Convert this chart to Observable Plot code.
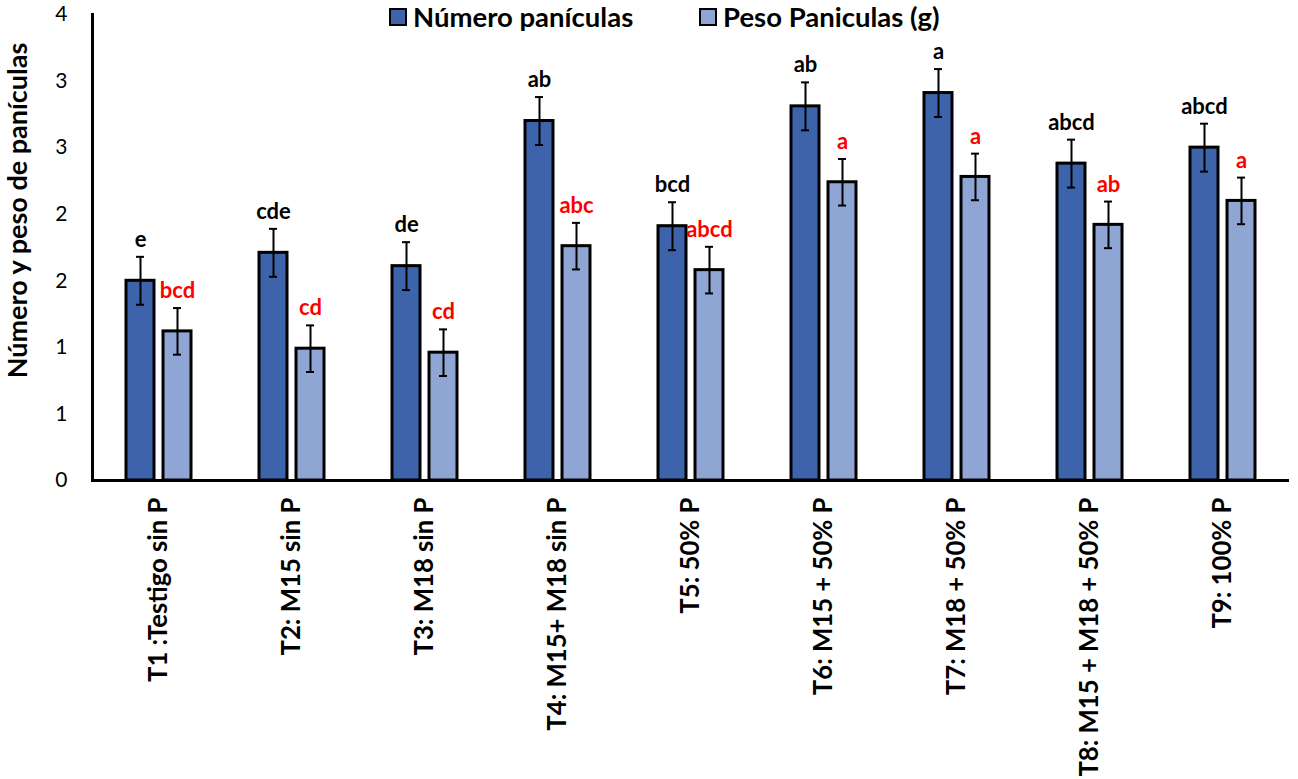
<!DOCTYPE html>
<html>
<head>
<meta charset="utf-8">
<script src="https://cdn.jsdelivr.net/npm/d3@7"></script>
<script src="https://cdn.jsdelivr.net/npm/@observablehq/plot@0.6"></script>
<style>
  html, body { margin: 0; padding: 0; background: #fff; }
  #wrap { position: relative; width: 1298px; height: 779px; font-family: Lato, "Open Sans", sans-serif; }
  .leg { position: absolute; top: 0px; display: flex; align-items: center; font-weight: bold; font-size: 27.5px; color: #000; white-space: nowrap; }
  .sw { width: 14px; height: 14px; border: 2px solid #000; margin-right: 6px; }
  svg g[aria-label="fx-axis tick label"] text { font-weight: bold; }
</style>
</head>
<body>
<div id="wrap">
  <div class="leg" style="left:389px"><div class="sw" id="sw0"></div><span id="lg0"></span></div>
  <div class="leg" style="left:699px"><div class="sw" id="sw1"></div><span id="lg1"></span></div>
</div>
<script>
const treatments = ["T1 :Testigo sin P", "T2: M15 sin P", "T3: M18 sin P", "T4: M15+ M18 sin P", "T5: 50% P", "T6: M15 + 50% P", "T7: M18 + 50% P", "T8: M15 + M18 + 50% P", "T9: 100% P"];
const series = ["Número panículas", "Peso Paniculas (g)"];
const numero = [1.50, 1.71, 1.61, 2.70, 1.91, 2.81, 2.91, 2.38, 2.50];
const peso = [1.12, 0.99, 0.96, 1.76, 1.58, 2.24, 2.28, 1.92, 2.10];
const errNumero = [0.18, 0.18, 0.18, 0.18, 0.18, 0.18, 0.18, 0.18, 0.18];
const errPeso = [0.175, 0.175, 0.175, 0.175, 0.175, 0.175, 0.175, 0.175, 0.175];
const letrasNumero = ["e", "cde", "de", "ab", "bcd", "ab", "a", "abcd", "abcd"];
const letrasPeso = ["bcd", "cd", "cd", "abc", "abcd", "a", "a", "ab", "a"];
const yTicks = [0, 0.5, 1, 1.5, 2, 2.5, 3, 3.5];
const yTickLabels = ["0", "1", "1", "2", "2", "3", "3", "4"];
const yLabel = "Número y peso de panículas";
const colors = ["#3D64AB", "#8FA5D4"];
const letterColors = ["#000000", "#FF0000"];

const data = treatments.flatMap((t, i) => [
  {trt: t, serie: series[0], value: numero[i], err: errNumero[i], letra: letrasNumero[i]},
  {trt: t, serie: series[1], value: peso[i], err: errPeso[i], letra: letrasPeso[i]}
]);

document.getElementById("lg0").textContent = series[0];
document.getElementById("lg1").textContent = series[1];
document.getElementById("sw0").style.background = colors[0];
document.getElementById("sw1").style.background = colors[1];

const chart = Plot.plot({
  width: 1298,
  height: 779,
  marginLeft: 91,
  marginRight: 8,
  marginTop: 14,
  marginBottom: 299,
  style: {fontFamily: "Lato, 'Open Sans', sans-serif", fontSize: "20px", color: "#000", background: "transparent", overflow: "visible"},
  fx: {domain: treatments, padding: 0, label: null},
  x: {domain: series, paddingInner: 0.255, paddingOuter: 0.9, axis: null},
  y: {domain: [0, 3.5], label: null},
  color: {domain: series, range: colors},
  marks: [
    Plot.axisY({ticks: yTicks, tickFormat: d => yTickLabels[yTicks.indexOf(d)], tickSize: 0, tickPadding: 25, fontSize: 21, label: null}),
    Plot.axisFx({anchor: "bottom", tickRotate: -90, tickSize: 0, tickPadding: 17, fontSize: 25.7, label: null}),
    Plot.barY(data, {fx: "trt", x: "serie", y: "value", fill: "serie", stroke: "#000", strokeWidth: 3}),
    Plot.ruleX(data, {fx: "trt", x: "serie", y1: d => d.value - d.err, y2: d => d.value + d.err, stroke: "#000", strokeWidth: 2}),
    Plot.tickY(data, {fx: "trt", x: "serie", y: d => d.value + d.err, stroke: "#000", strokeWidth: 2, insetLeft: 10, insetRight: 10}),
    Plot.tickY(data, {fx: "trt", x: "serie", y: d => d.value - d.err, stroke: "#000", strokeWidth: 2, insetLeft: 10, insetRight: 10}),
    Plot.text(data, {fx: "trt", x: "serie", y: d => d.value + d.err, text: "letra", dy: -17, fontWeight: "bold", fontSize: 22, fill: d => letterColors[series.indexOf(d.serie)]}),
    Plot.ruleY([0], {stroke: "#000", strokeWidth: 3}),
    Plot.frame({anchor: "left", facetAnchor: "left", stroke: "#000", strokeWidth: 3}),
    Plot.text([yLabel], {facetAnchor: "left", frameAnchor: "left", textAnchor: "middle", rotate: -90, dx: -74, dy: -37, fontWeight: "bold", fontSize: 27, clip: false})
  ]
});
chart.style.position = "absolute";
chart.style.left = "0px";
chart.style.top = "0px";
document.getElementById("wrap").prepend(chart);
</script>
</body>
</html>
